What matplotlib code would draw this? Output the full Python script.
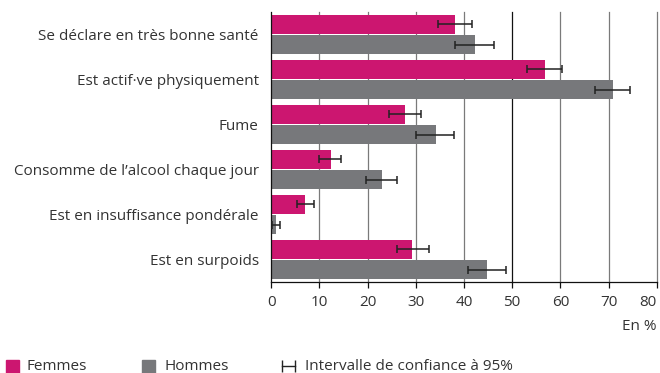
import numpy as np
import matplotlib.pyplot as plt
from matplotlib.patches import Rectangle
from matplotlib.lines import Line2D

plt.rcParams['font.family'] = ['Open Sans', 'DejaVu Sans']

# ----------- DATA -----------------------------------------------------------
categories = [
    "Se déclare en très bonne santé",
    "Est actif·ve physiquement",
    "Fume",
    "Consomme de l’alcool chaque jour",
    "Est en insuffisance pondérale",
    "Est en surpoids",
]
femmes          = [38.1, 56.8, 27.8, 12.4, 7.0, 29.2]
femmes_low      = [34.5, 53.0, 24.5, 10.0, 5.3, 26.0]
femmes_high     = [41.7, 60.4, 31.0, 14.5, 8.9, 32.7]
hommes          = [42.3, 70.9, 34.1, 23.0, 0.9, 44.8]
hommes_low      = [38.2, 67.2, 30.1, 19.7, 0.1, 40.8]
hommes_high     = [46.3, 74.5, 38.0, 26.0, 1.8, 48.8]
x_ticks         = [0, 10, 20, 30, 40, 50, 60, 70, 80]
# ----------------------------------------------------------------------------

pink = "#CC1670"
grey = "#77787B"
text_col = "#333333"
fs = 11

W, H = 660, 373
fig = plt.figure(figsize=(W / 100, H / 100), dpi=100)
ax = fig.add_axes([271.3 / W, 1 - 282 / H, 385.4 / W, 270 / H])

y = np.arange(len(categories))
h = 0.42
off = 0.225

ax.barh(y - off, femmes, height=h, color=pink, zorder=2)
ax.barh(y + off, hommes, height=h, color=grey, zorder=2)

f_err = [np.array(femmes) - np.array(femmes_low), np.array(femmes_high) - np.array(femmes)]
h_err = [np.array(hommes) - np.array(hommes_low), np.array(hommes_high) - np.array(hommes)]
ax.errorbar(femmes, y - off, xerr=f_err, fmt="none", ecolor="#222222",
            elinewidth=1.1, capsize=2.9, capthick=1.1, zorder=3)
ax.errorbar(hommes, y + off, xerr=h_err, fmt="none", ecolor="#222222",
            elinewidth=1.1, capsize=2.9, capthick=1.1, zorder=3)

ax.set_xlim(0, 80)
ax.set_ylim(len(categories) - 0.5, -0.5)
ax.set_xticks(x_ticks)
ax.set_yticks(y)
ax.set_yticklabels(categories)

for t in x_ticks[1:]:
    ax.axvline(t, color="#111111" if t == 50 else "#7a7a7a", lw=0.9, zorder=1,
               clip_on=False)

for s in ["top", "right"]:
    ax.spines[s].set_visible(False)
ax.spines["left"].set_color("#111111")
ax.spines["bottom"].set_color("#111111")
ax.spines["left"].set_linewidth(0.9)
ax.spines["bottom"].set_linewidth(0.9)

ax.tick_params(axis="y", length=0, pad=9, labelsize=fs, labelcolor=text_col)
ax.tick_params(axis="x", length=4, width=0.9, color="#111111", pad=5,
               labelsize=fs, labelcolor=text_col)
for lbl in ax.get_xticklabels()[-1:]:
    lbl.set_horizontalalignment("right")
    lbl.set_x(lbl.get_position()[0])

fig.text(657 / W, 1 - 326 / H, "En %", ha="right", va="center", fontsize=fs, color=text_col)

# legend row
ly = 1 - 366 / H
sq = 13 / H
fig.add_artist(Rectangle((6 / W, ly - sq / 2), 13 / W, sq, color=pink, transform=fig.transFigure))
fig.text(27 / W, ly, "Femmes", va="center", fontsize=fs, color=text_col)
fig.add_artist(Rectangle((142 / W, ly - sq / 2), 13 / W, sq, color=grey, transform=fig.transFigure))
fig.text(164 / W, ly, "Hommes", va="center", fontsize=fs, color=text_col)
fig.add_artist(Line2D([282 / W, 295 / W], [ly, ly], color="#222222", lw=1,
                      marker="|", markersize=8, markeredgewidth=1, transform=fig.transFigure))
fig.text(305 / W, ly, "Intervalle de confiance à 95%", va="center", fontsize=fs, color=text_col)

fig.savefig("out.png", dpi=100)
